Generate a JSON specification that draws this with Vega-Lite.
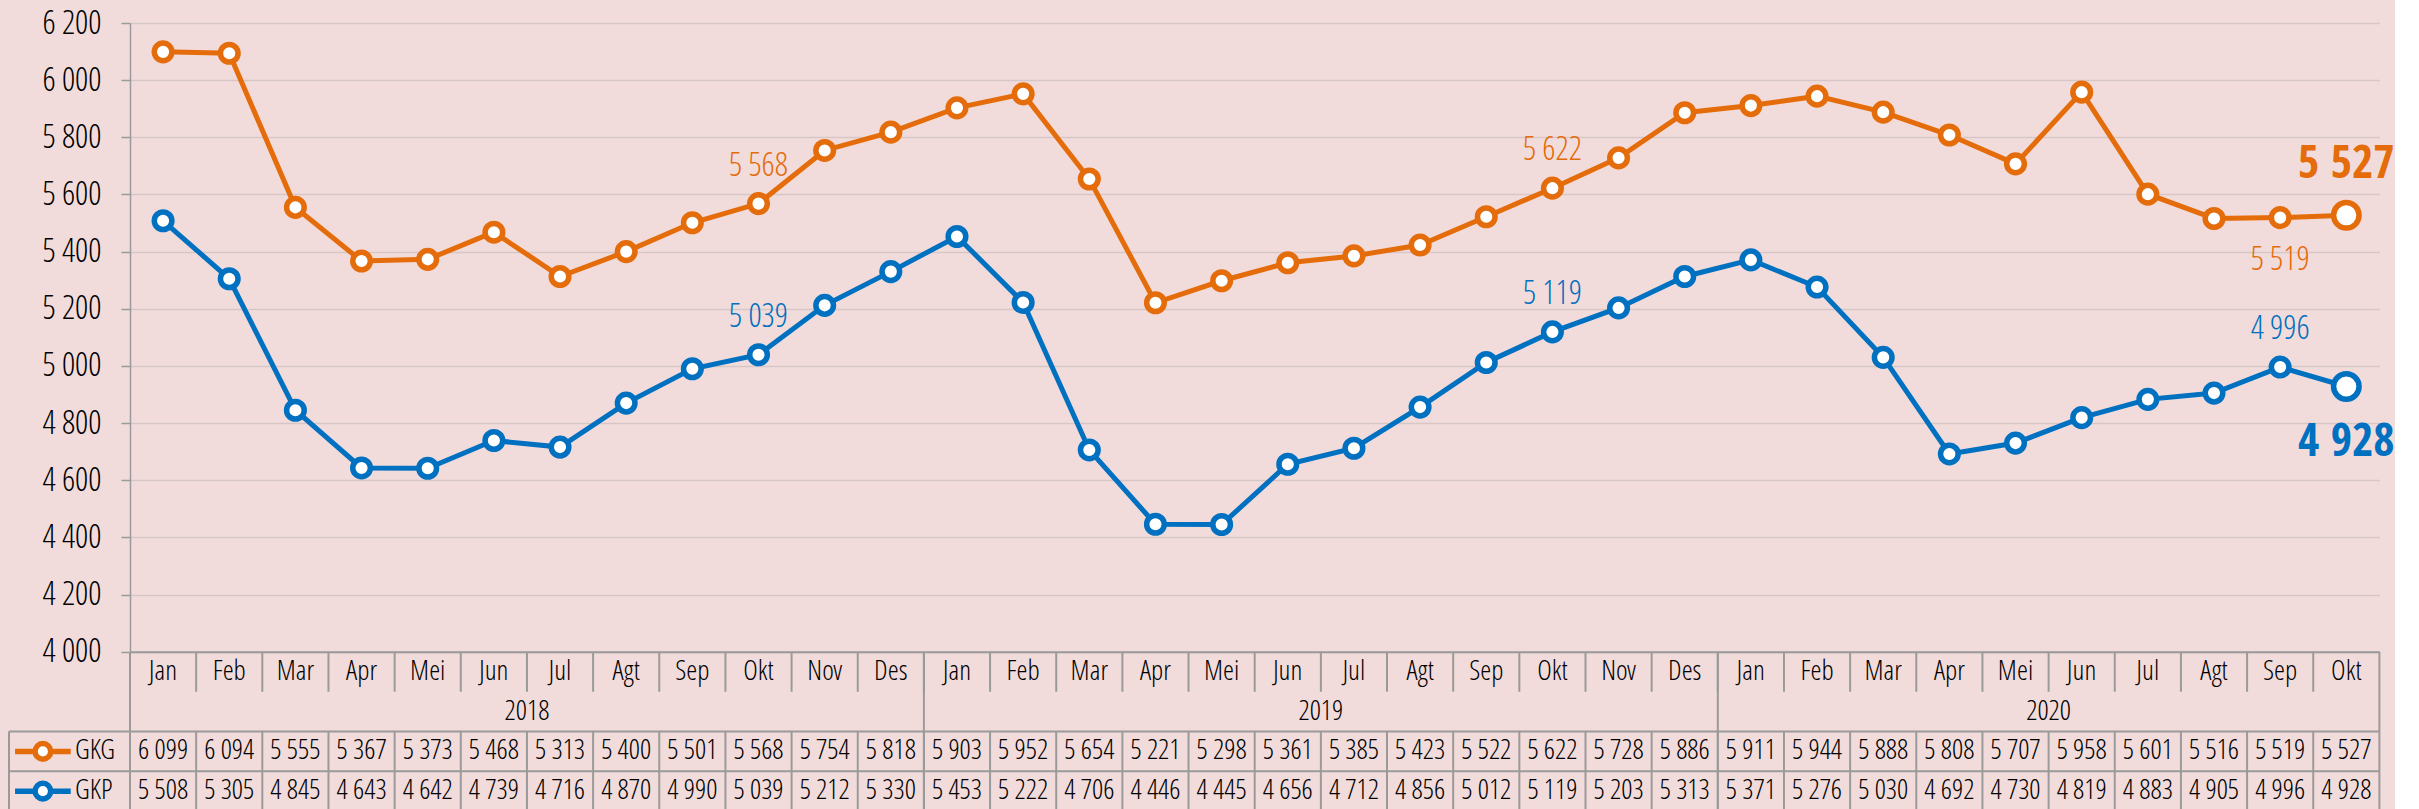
{
  "$schema": "https://vega.github.io/schema/vega-lite/v6.json",
  "background": "#F2DCDB",
  "padding": {"left": 4, "top": 7, "right": 0, "bottom": 0},
  "config": {
    "view": {"stroke": null},
    "font": "Open Sans Condensed Light, Liberation Sans, sans-serif",
    "locale": {"number": {"decimal": ",", "thousands": " ", "grouping": [3], "currency": ["", ""]}}
  },
  "spacing": 0,
  "bounds": "flush",
  "columns": 2,
  "resolve": {"scale": {"x": "independent", "y": "independent", "color": "independent"}},
  "datasets": {
    "months": [
      {"key": "2018-01", "month": "Jan", "year": "2018", "GKG": 6099, "GKP": 5508},
      {"key": "2018-02", "month": "Feb", "year": "2018", "GKG": 6094, "GKP": 5305},
      {"key": "2018-03", "month": "Mar", "year": "2018", "GKG": 5555, "GKP": 4845},
      {"key": "2018-04", "month": "Apr", "year": "2018", "GKG": 5367, "GKP": 4643},
      {"key": "2018-05", "month": "Mei", "year": "2018", "GKG": 5373, "GKP": 4642},
      {"key": "2018-06", "month": "Jun", "year": "2018", "GKG": 5468, "GKP": 4739},
      {"key": "2018-07", "month": "Jul", "year": "2018", "GKG": 5313, "GKP": 4716},
      {"key": "2018-08", "month": "Agt", "year": "2018", "GKG": 5400, "GKP": 4870},
      {"key": "2018-09", "month": "Sep", "year": "2018", "GKG": 5501, "GKP": 4990},
      {"key": "2018-10", "month": "Okt", "year": "2018", "GKG": 5568, "GKP": 5039},
      {"key": "2018-11", "month": "Nov", "year": "2018", "GKG": 5754, "GKP": 5212},
      {"key": "2018-12", "month": "Des", "year": "2018", "GKG": 5818, "GKP": 5330},
      {"key": "2019-01", "month": "Jan", "year": "2019", "GKG": 5903, "GKP": 5453},
      {"key": "2019-02", "month": "Feb", "year": "2019", "GKG": 5952, "GKP": 5222},
      {"key": "2019-03", "month": "Mar", "year": "2019", "GKG": 5654, "GKP": 4706},
      {"key": "2019-04", "month": "Apr", "year": "2019", "GKG": 5221, "GKP": 4446},
      {"key": "2019-05", "month": "Mei", "year": "2019", "GKG": 5298, "GKP": 4445},
      {"key": "2019-06", "month": "Jun", "year": "2019", "GKG": 5361, "GKP": 4656},
      {"key": "2019-07", "month": "Jul", "year": "2019", "GKG": 5385, "GKP": 4712},
      {"key": "2019-08", "month": "Agt", "year": "2019", "GKG": 5423, "GKP": 4856},
      {"key": "2019-09", "month": "Sep", "year": "2019", "GKG": 5522, "GKP": 5012},
      {"key": "2019-10", "month": "Okt", "year": "2019", "GKG": 5622, "GKP": 5119},
      {"key": "2019-11", "month": "Nov", "year": "2019", "GKG": 5728, "GKP": 5203},
      {"key": "2019-12", "month": "Des", "year": "2019", "GKG": 5886, "GKP": 5313},
      {"key": "2020-01", "month": "Jan", "year": "2020", "GKG": 5911, "GKP": 5371},
      {"key": "2020-02", "month": "Feb", "year": "2020", "GKG": 5944, "GKP": 5276},
      {"key": "2020-03", "month": "Mar", "year": "2020", "GKG": 5888, "GKP": 5030},
      {"key": "2020-04", "month": "Apr", "year": "2020", "GKG": 5808, "GKP": 4692},
      {"key": "2020-05", "month": "Mei", "year": "2020", "GKG": 5707, "GKP": 4730},
      {"key": "2020-06", "month": "Jun", "year": "2020", "GKG": 5958, "GKP": 4819},
      {"key": "2020-07", "month": "Jul", "year": "2020", "GKG": 5601, "GKP": 4883},
      {"key": "2020-08", "month": "Agt", "year": "2020", "GKG": 5516, "GKP": 4905},
      {"key": "2020-09", "month": "Sep", "year": "2020", "GKG": 5519, "GKP": 4996},
      {"key": "2020-10", "month": "Okt", "year": "2020", "GKG": 5527, "GKP": 4928}
    ],
    "series": [{"series": "GKG"}, {"series": "GKP"}]
  },
  "concat": [
    {
      "width": 121,
      "height": 628.7,
      "data": {"values": [{}]},
      "mark": {"type": "text"},
      "encoding": {"text": {"value": ""}}
    },
    {
      "width": 2249.4,
      "height": 628.7,
      "data": {"name": "months"},
      "transform": [{"fold": ["GKG", "GKP"], "as": ["series", "value"]}],
      "encoding": {
        "x": {
          "field": "key", "type": "nominal",
          "scale": {"type": "band", "paddingInner": 0, "paddingOuter": 0},
          "axis": {"labels": false, "ticks": false, "title": null, "grid": false, "domainColor": "#9a9a9a", "domainWidth": 2}
        },
        "y": {
          "field": "value", "type": "quantitative",
          "scale": {"domain": [4000, 6200], "nice": false, "zero": false},
          "axis": {
            "values": [4000, 4200, 4400, 4600, 4800, 5000, 5200, 5400, 5600, 5800, 6000, 6200],
            "format": ",d", "title": null, "labelFontSize": 33, "labelColor": "#000000",
            "labelPadding": 20, "labelFlush": false, "labelOverlap": false,
            "tickSize": 9, "tickColor": "#9a9a9a", "tickWidth": 1.5,
            "domainColor": "#9a9a9a", "domainWidth": 1.5,
            "grid": true, "gridColor": "#d7c6c6", "gridWidth": 1.5
          }
        },
        "color": {
          "field": "series", "type": "nominal",
          "scale": {"domain": ["GKG", "GKP"], "range": ["#E46C0A", "#0070C0"]},
          "legend": null
        }
      },
      "layer": [
        {"mark": {"type": "line", "strokeWidth": 5}},
        {
          "transform": [{"filter": "datum.key != '2020-10'"}],
          "mark": {"type": "point", "filled": false, "fill": "white", "fillOpacity": 1, "opacity": 1, "size": 310, "strokeWidth": 5.5}
        },
        {
          "transform": [{"filter": "datum.key == '2020-10'"}],
          "mark": {"type": "point", "filled": false, "fill": "white", "fillOpacity": 1, "opacity": 1, "size": 650, "strokeWidth": 5.5}
        },
        {
          "transform": [{"filter": "datum.key == '2018-10' || datum.key == '2019-10' || (datum.key == '2020-09' && datum.series == 'GKP')"}],
          "mark": {"type": "text", "fontSize": 33, "baseline": "middle", "dy": -38},
          "encoding": {"text": {"field": "value", "type": "quantitative", "format": ",d"}}
        },
        {
          "transform": [{"filter": "datum.key == '2020-09' && datum.series == 'GKG'"}],
          "mark": {"type": "text", "fontSize": 33, "baseline": "middle", "dy": 42},
          "encoding": {"text": {"field": "value", "type": "quantitative", "format": ",d"}}
        },
        {
          "transform": [{"filter": "datum.key == '2020-10' && datum.series == 'GKG'"}],
          "mark": {"type": "text", "font": "Open Sans Condensed, Liberation Sans, sans-serif", "fontSize": 46, "fontWeight": "bold", "baseline": "middle", "dy": -51},
          "encoding": {"text": {"field": "value", "type": "quantitative", "format": ",d"}}
        },
        {
          "transform": [{"filter": "datum.key == '2020-10' && datum.series == 'GKP'"}],
          "mark": {"type": "text", "font": "Open Sans Condensed, Liberation Sans, sans-serif", "fontSize": 46, "fontWeight": "bold", "baseline": "middle", "dy": 55},
          "encoding": {"text": {"field": "value", "type": "quantitative", "format": ",d"}}
        }
      ]
    },
    {
      "width": 121,
      "height": 159,
      "data": {"name": "series"},
      "layer": [
        {
          "data": {"values": [{}]},
          "mark": {"type": "rule", "color": "#9a9a9a", "strokeWidth": 2},
          "encoding": {
            "x": {"datum": "sym", "type": "nominal", "bandPosition": 0, "scale": {"type": "band", "domain": ["sym", "lab"], "paddingInner": 0, "paddingOuter": 0}, "axis": null},
            "y": {"datum": 2, "type": "quantitative", "scale": {"domain": [0, 4], "reverse": true}, "axis": null},
            "y2": {"datum": 4}
          }
        },
        {
          "data": {"values": [{}]},
          "mark": {"type": "rule", "color": "#9a9a9a", "strokeWidth": 2},
          "encoding": {"y": {"datum": 2, "type": "quantitative", "scale": {"domain": [0, 4], "reverse": true}, "axis": null}}
        },
        {
          "data": {"values": [{}]},
          "mark": {"type": "rule", "color": "#9a9a9a", "strokeWidth": 2},
          "encoding": {"y": {"datum": 3, "type": "quantitative", "scale": {"domain": [0, 4], "reverse": true}, "axis": null}}
        },
        {
          "transform": [{"filter": "datum.series == 'GKG'"}],
          "mark": {"type": "point", "shape": "M-1,0L-0.28,0M0.28,0L1,0M-0.28,0A0.28,0.28,0,1,0,0.28,0A0.28,0.28,0,1,0,-0.28,0Z", "size": 3100, "fill": "white", "fillOpacity": 1, "opacity": 1, "filled": false, "strokeWidth": 5.5, "color": "#E46C0A"},
          "encoding": {
            "x": {"datum": "sym", "type": "nominal", "bandPosition": 0.56, "scale": {"type": "band", "domain": ["sym", "lab"], "paddingInner": 0, "paddingOuter": 0}, "axis": null},
            "y": {"datum": 2.5, "type": "quantitative", "scale": {"domain": [0, 4], "reverse": true}, "axis": null}
          }
        },
        {
          "transform": [{"filter": "datum.series == 'GKP'"}],
          "mark": {"type": "point", "shape": "M-1,0L-0.28,0M0.28,0L1,0M-0.28,0A0.28,0.28,0,1,0,0.28,0A0.28,0.28,0,1,0,-0.28,0Z", "size": 3100, "fill": "white", "fillOpacity": 1, "opacity": 1, "filled": false, "strokeWidth": 5.5, "color": "#0070C0"},
          "encoding": {
            "x": {"datum": "sym", "type": "nominal", "bandPosition": 0.56, "scale": {"type": "band", "domain": ["sym", "lab"], "paddingInner": 0, "paddingOuter": 0}, "axis": null},
            "y": {"datum": 3.5, "type": "quantitative", "scale": {"domain": [0, 4], "reverse": true}, "axis": null}
          }
        },
        {
          "transform": [{"filter": "datum.series == 'GKG'"}],
          "mark": {"type": "text", "fontSize": 28, "align": "left", "baseline": "middle", "color": "#000000"},
          "encoding": {
            "x": {"datum": "lab", "type": "nominal", "bandPosition": 0.09, "scale": {"type": "band", "domain": ["sym", "lab"], "paddingInner": 0, "paddingOuter": 0}, "axis": null},
            "y": {"datum": 2.5, "type": "quantitative", "scale": {"domain": [0, 4], "reverse": true}, "axis": null},
            "text": {"field": "series"}
          }
        },
        {
          "transform": [{"filter": "datum.series == 'GKP'"}],
          "mark": {"type": "text", "fontSize": 28, "align": "left", "baseline": "middle", "color": "#000000"},
          "encoding": {
            "x": {"datum": "lab", "type": "nominal", "bandPosition": 0.09, "scale": {"type": "band", "domain": ["sym", "lab"], "paddingInner": 0, "paddingOuter": 0}, "axis": null},
            "y": {"datum": 3.5, "type": "quantitative", "scale": {"domain": [0, 4], "reverse": true}, "axis": null},
            "text": {"field": "series"}
          }
        }
      ]
    },
    {
      "width": 2249.4,
      "height": 159,
      "data": {"name": "months"},
      "layer": [
        {
          "mark": {"type": "rule", "color": "#9a9a9a", "strokeWidth": 2},
          "encoding": {
            "x": {"field": "key", "type": "nominal", "bandPosition": 0, "scale": {"type": "band", "paddingInner": 0, "paddingOuter": 0}, "axis": null},
            "y": {"datum": 0, "type": "quantitative", "scale": {"domain": [0, 4], "reverse": true}, "axis": null},
            "y2": {"datum": 1}
          }
        },
        {
          "transform": [{"filter": "datum.month == 'Jan'"}],
          "mark": {"type": "rule", "color": "#9a9a9a", "strokeWidth": 2},
          "encoding": {
            "x": {"field": "key", "type": "nominal", "bandPosition": 0, "scale": {"type": "band", "paddingInner": 0, "paddingOuter": 0}, "axis": null},
            "y": {"datum": 0, "type": "quantitative", "scale": {"domain": [0, 4], "reverse": true}, "axis": null},
            "y2": {"datum": 4}
          }
        },
        {
          "mark": {"type": "rule", "color": "#9a9a9a", "strokeWidth": 2},
          "encoding": {
            "x": {"field": "key", "type": "nominal", "bandPosition": 0, "scale": {"type": "band", "paddingInner": 0, "paddingOuter": 0}, "axis": null},
            "y": {"datum": 2, "type": "quantitative", "scale": {"domain": [0, 4], "reverse": true}, "axis": null},
            "y2": {"datum": 4}
          }
        },
        {
          "transform": [{"filter": "datum.key == '2020-10'"}],
          "mark": {"type": "rule", "color": "#9a9a9a", "strokeWidth": 2},
          "encoding": {
            "x": {"field": "key", "type": "nominal", "bandPosition": 1, "scale": {"type": "band", "paddingInner": 0, "paddingOuter": 0}, "axis": null},
            "y": {"datum": 0, "type": "quantitative", "scale": {"domain": [0, 4], "reverse": true}, "axis": null},
            "y2": {"datum": 4}
          }
        },
        {
          "data": {"values": [{}]},
          "mark": {"type": "rule", "color": "#9a9a9a", "strokeWidth": 2},
          "encoding": {"y": {"datum": 2, "type": "quantitative", "scale": {"domain": [0, 4], "reverse": true}, "axis": null}}
        },
        {
          "data": {"values": [{}]},
          "mark": {"type": "rule", "color": "#9a9a9a", "strokeWidth": 2},
          "encoding": {"y": {"datum": 3, "type": "quantitative", "scale": {"domain": [0, 4], "reverse": true}, "axis": null}}
        },
        {
          "mark": {"type": "text", "fontSize": 28, "baseline": "middle", "color": "#000000"},
          "encoding": {
            "x": {"field": "key", "type": "nominal", "scale": {"type": "band", "paddingInner": 0, "paddingOuter": 0}, "axis": null},
            "y": {"datum": 0.5, "type": "quantitative", "scale": {"domain": [0, 4], "reverse": true}, "axis": null},
            "text": {"field": "month"}
          }
        },
        {
          "transform": [{"filter": "datum.key == '2018-06' || datum.key == '2019-06' || datum.key == '2020-05'"}],
          "mark": {"type": "text", "fontSize": 28, "baseline": "middle", "color": "#000000"},
          "encoding": {
            "x": {"field": "key", "type": "nominal", "bandPosition": 1, "scale": {"type": "band", "paddingInner": 0, "paddingOuter": 0}, "axis": null},
            "y": {"datum": 1.5, "type": "quantitative", "scale": {"domain": [0, 4], "reverse": true}, "axis": null},
            "text": {"field": "year"}
          }
        },
        {
          "mark": {"type": "text", "fontSize": 28, "baseline": "middle", "color": "#000000"},
          "encoding": {
            "x": {"field": "key", "type": "nominal", "scale": {"type": "band", "paddingInner": 0, "paddingOuter": 0}, "axis": null},
            "y": {"datum": 2.5, "type": "quantitative", "scale": {"domain": [0, 4], "reverse": true}, "axis": null},
            "text": {"field": "GKG", "type": "quantitative", "format": ",d"}
          }
        },
        {
          "mark": {"type": "text", "fontSize": 28, "baseline": "middle", "color": "#000000"},
          "encoding": {
            "x": {"field": "key", "type": "nominal", "scale": {"type": "band", "paddingInner": 0, "paddingOuter": 0}, "axis": null},
            "y": {"datum": 3.5, "type": "quantitative", "scale": {"domain": [0, 4], "reverse": true}, "axis": null},
            "text": {"field": "GKP", "type": "quantitative", "format": ",d"}
          }
        }
      ]
    }
  ]
}
